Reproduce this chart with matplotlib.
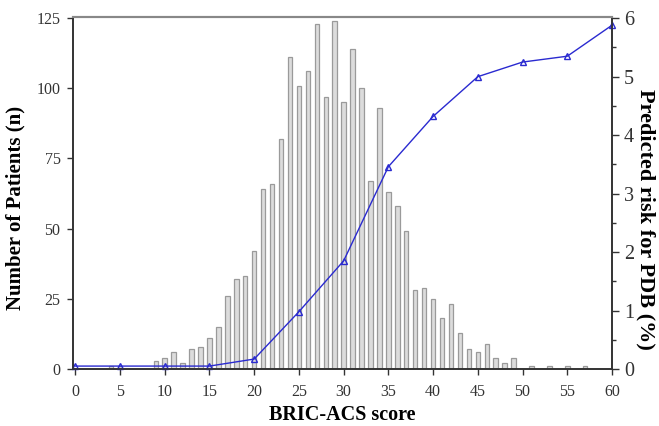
import numpy as np
import matplotlib.pyplot as plt

# ======================data======================
scores = list(range(0, 60))
patients = [0, 0, 0, 0, 1, 1, 0, 0, 0, 3,
            4, 6, 2, 7, 8, 11, 15, 26, 32, 33,
            42, 64, 66, 82, 111, 101, 106, 123, 97, 124,
            95, 114, 100, 67, 93, 63, 58, 49, 28, 29,
            25, 18, 23, 13, 7, 6, 9, 4, 2, 4,
            0, 1, 0, 1, 0, 1, 0, 1, 0, 0]

risk_scores = [0, 5, 10, 15, 20, 25, 30, 35, 40, 45, 50, 55, 60]
risk_pct = [0.05, 0.05, 0.05, 0.05, 0.17, 0.98, 1.85, 3.46, 4.32, 5.0, 5.25, 5.35, 5.88]

x_ticks = list(range(0, 61, 5))

# ======================plot======================
plt.rcParams['font.family'] = ['Liberation Serif', 'DejaVu Serif']

fig = plt.figure(figsize=(6.59, 4.26), dpi=100)
ax = fig.add_axes([0.1108, 0.1338, 0.8179, 0.8262])

ax.bar(scores, patients, width=0.5, color='#dcdcdc', edgecolor='#9a9a9a', linewidth=0.9)
ax.set_xlim(-0.25, 60)
ax.set_ylim(0, 125.4)
ax.set_xticks(x_ticks)
ax.set_yticks([0, 25, 50, 75, 100, 125])
ax.tick_params(direction='out', length=4, width=1, colors='#333333', labelsize=11.5,
               labelcolor='#333333')
ax.tick_params(axis='x', pad=7)
ax.tick_params(axis='y', pad=5)

ax2 = ax.twinx()
ax2.plot(risk_scores, risk_pct, color='#2a2ad0', linewidth=1.0, marker='^',
         markersize=4.5, markerfacecolor='none', markeredgecolor='#2a2ad0',
         markeredgewidth=1.0, clip_on=False)
ax2.set_ylim(0, 6.02)
ax2.set_yticks(range(0, 7))
ax2.set_yticks(np.arange(0.5, 6, 1.0), minor=True)
ax2.tick_params(axis='y', which='major', direction='out', length=5, width=1,
                colors='#333333', labelsize=14.5, labelcolor='#333333')
ax2.tick_params(axis='y', which='minor', direction='out', length=3, width=1, colors='#333333')

# axis titles
fig.text(0.519, 0.026, 'BRIC-ACS score', fontsize=14.5, fontweight='bold',
         ha='center', va='center')
fig.text(0.0228, 0.5117, 'Number of Patients (n)', fontsize=15, fontweight='bold',
         ha='center', va='center', rotation=90)
fig.text(0.9788, 0.486, 'Predicted risk for PDB (%)', fontsize=16, fontweight='bold',
         ha='center', va='center', rotation=-90)

for a in (ax, ax2):
    a.spines['top'].set_color('#888888')
    a.spines['top'].set_linewidth(1.5)
    for s in ('left', 'right', 'bottom'):
        a.spines[s].set_color('#333333')
        a.spines[s].set_linewidth(1.2)

fig.savefig('out.png', dpi=100)
